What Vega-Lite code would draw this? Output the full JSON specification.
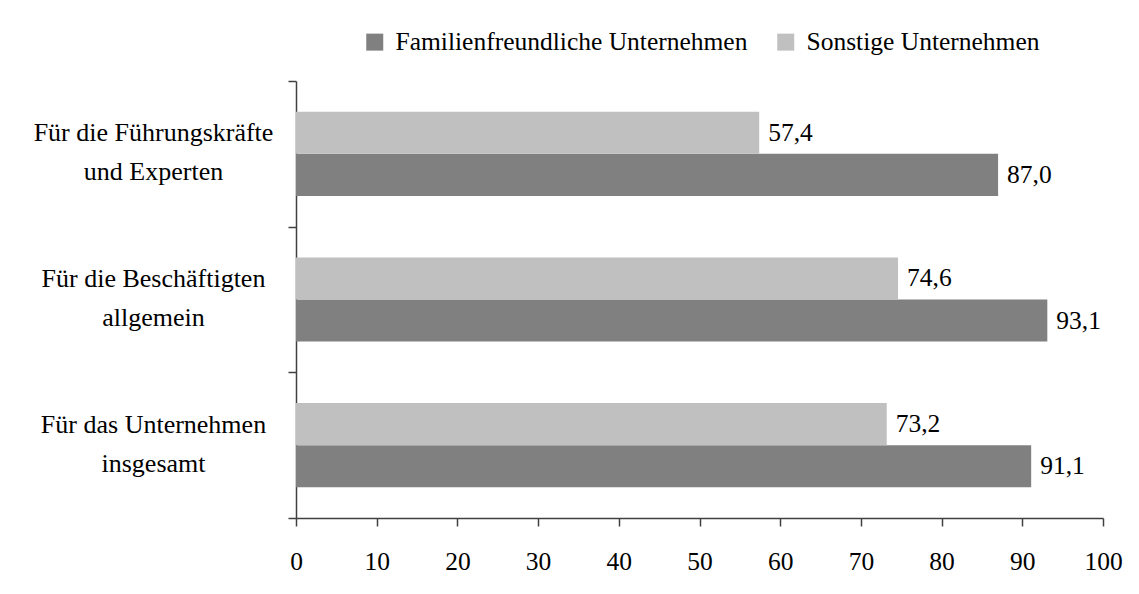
{
  "$schema": "https://vega.github.io/schema/vega-lite/v6.json",
  "width": 807,
  "height": 437,
  "autosize": {"type": "none"},
  "padding": {"left": 296, "top": 81, "right": 36, "bottom": 76},
  "background": "white",
  "config": {
    "view": {"stroke": null},
    "font": "Liberation Serif",
    "locale": {"number": {"decimal": ",", "thousands": ".", "grouping": [3], "currency": ["", " €"]}},
    "axis": {"labelFont": "Liberation Serif", "labelFontSize": 25.5, "labelColor": "#000000", "domainColor": "#404040", "tickColor": "#404040", "domainWidth": 1.5, "tickWidth": 1.5, "grid": false, "title": null},
    "legend": {"labelFont": "Liberation Serif", "labelFontSize": 25.5, "labelColor": "#000000"},
    "text": {"font": "Liberation Serif"}
  },
  "data": {
    "values": [
      {"kategorie": "Für die Führungskräfte und Experten", "gruppe": "Familienfreundliche Unternehmen", "wert": 87.0},
      {"kategorie": "Für die Führungskräfte und Experten", "gruppe": "Sonstige Unternehmen", "wert": 57.4},
      {"kategorie": "Für die Beschäftigten allgemein", "gruppe": "Familienfreundliche Unternehmen", "wert": 93.1},
      {"kategorie": "Für die Beschäftigten allgemein", "gruppe": "Sonstige Unternehmen", "wert": 74.6},
      {"kategorie": "Für das Unternehmen insgesamt", "gruppe": "Familienfreundliche Unternehmen", "wert": 91.1},
      {"kategorie": "Für das Unternehmen insgesamt", "gruppe": "Sonstige Unternehmen", "wert": 73.2}
    ]
  },
  "encoding": {
    "y": {
      "field": "kategorie",
      "type": "nominal",
      "sort": null,
      "scale": {"paddingInner": 0, "paddingOuter": 0},
      "axis": {
        "tickBand": "extent",
        "tickSize": 8,
        "labelAlign": "center",
        "labelBaseline": "middle",
        "labelPadding": 135,
        "labelOffset": -21,
        "labelFontSize": 26,
        "labelLineHeight": 39,
        "labelLimit": 400,
        "labelExpr": "datum.label == 'Für die Führungskräfte und Experten' ? ['Für die Führungskräfte', 'und Experten'] : datum.label == 'Für die Beschäftigten allgemein' ? ['Für die Beschäftigten', 'allgemein'] : datum.label == 'Für das Unternehmen insgesamt' ? ['Für das Unternehmen', 'insgesamt'] : ''"
      }
    },
    "yOffset": {
      "field": "gruppe",
      "type": "nominal",
      "sort": ["Sonstige Unternehmen", "Familienfreundliche Unternehmen"],
      "scale": {"paddingInner": 0, "paddingOuter": 0.732}
    },
    "x": {
      "field": "wert",
      "type": "quantitative",
      "scale": {"domain": [0, 100], "nice": false},
      "axis": {"values": [0, 10, 20, 30, 40, 50, 60, 70, 80, 90, 100], "tickSize": 8, "labelPadding": 23, "labelFlush": false}
    }
  },
  "layer": [
    {
      "mark": {"type": "bar"},
      "encoding": {
        "color": {
          "field": "gruppe",
          "type": "nominal",
          "scale": {"domain": ["Familienfreundliche Unternehmen", "Sonstige Unternehmen"], "range": ["#808080", "#C0C0C0"]},
          "legend": {
            "title": null,
            "orient": "none",
            "direction": "horizontal",
            "legendX": 66,
            "legendY": -52,
            "symbolType": "square",
            "symbolSize": 289,
            "symbolStrokeWidth": 0,
            "labelOffset": 8,
            "columnPadding": 25,
            "labelLimit": 500
          }
        }
      }
    },
    {
      "mark": {"type": "text", "align": "left", "baseline": "middle", "dx": 9, "fontSize": 25.5, "color": "#000000"},
      "encoding": {
        "text": {"field": "wert", "type": "quantitative", "format": ".1f"}
      }
    }
  ]
}
